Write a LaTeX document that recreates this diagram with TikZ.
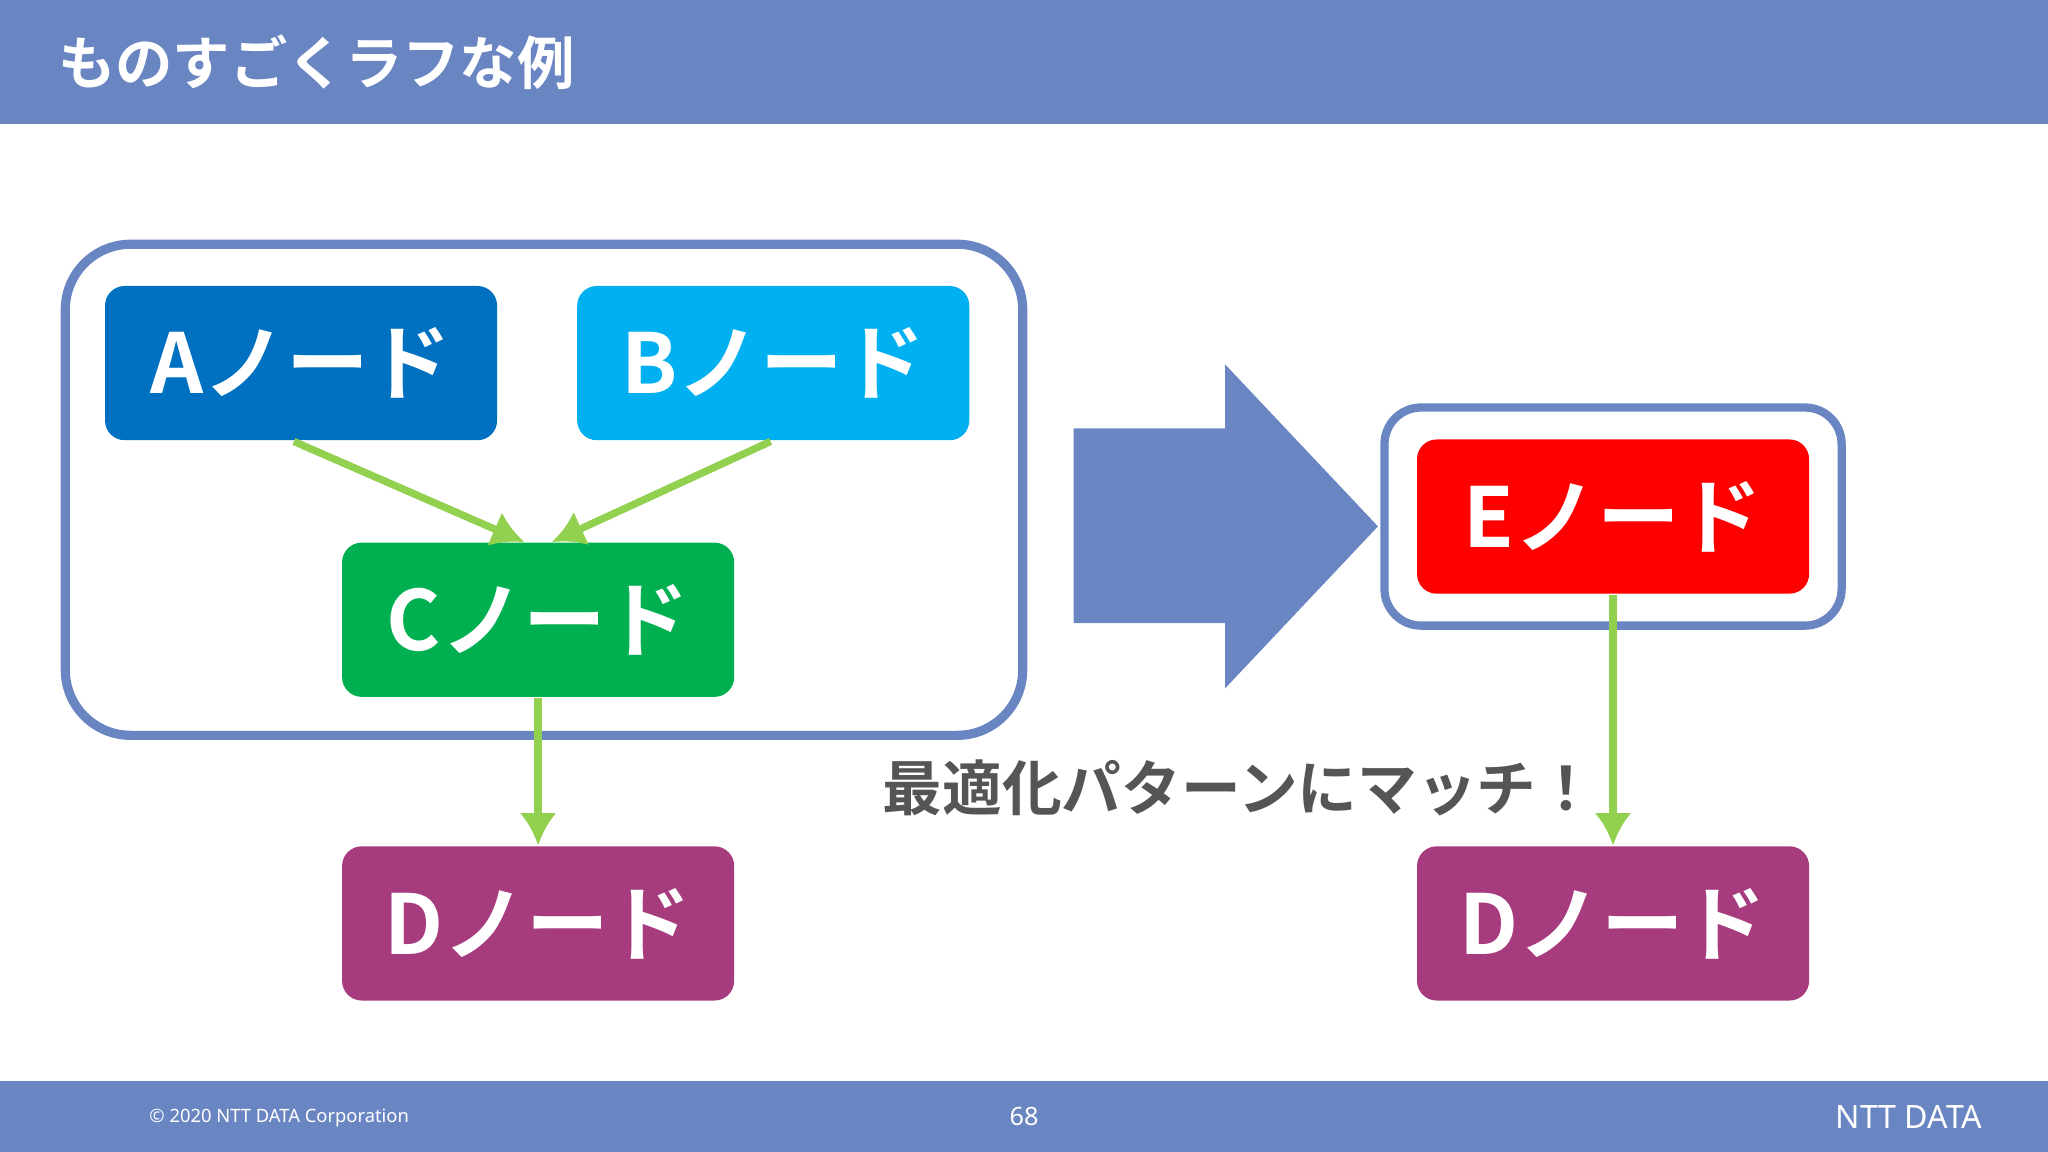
\documentclass[tikz,border=0pt]{standalone}
\usepackage{fontspec}
\setmainfont{Noto Sans CJK JP}[BoldFont={* Bold}]
\newfontfamily\lat{Noto Sans}
\usetikzlibrary{arrows.meta}
\definecolor{bar}{HTML}{6A86C2}
\definecolor{na}{HTML}{0070C0}
\definecolor{nb}{HTML}{00B0F0}
\definecolor{nc}{HTML}{00B050}
\definecolor{nd}{HTML}{A63C7E}
\definecolor{ne}{HTML}{FF0000}
\definecolor{gr}{HTML}{92D050}
\definecolor{tx}{HTML}{555555}
\begin{document}
\begin{tikzpicture}[x=0.01cm,y=-0.01cm,
  box/.style={rounded corners=0.15cm,text=white,font=\bfseries\fontsize{18}{20}\selectfont,inner sep=0,minimum width=3cm,minimum height=1.18cm},
  conn/.style={gr,line width=1.6pt,-{Latex[length=7pt,width=8pt]}}]
\useasboundingbox (0,0) rectangle (1568,882);
\fill[bar] (0,0) rectangle (1568,95);
\fill[bar] (0,828) rectangle (1568,882);
\node[anchor=west,text=white,font=\bfseries\fontsize{12.5}{14}\selectfont] (title) at (32,48) {ものすごくラフな例};
\node[anchor=west,text=white,font=\lat\fontsize{4}{5}\selectfont] (copy) at (102,856) {© 2020 NTT DATA Corporation};
\node[text=white,font=\lat\fontsize{5.5}{6}\selectfont] (pg) at (784,855) {68};
\node[anchor=east,text=white,font=\lat\bfseries\fontsize{7}{8}\selectfont] (logo) at (1530,855) {NTT DATA};
\draw[bar,line width=2pt,rounded corners=0.5cm] (50,187) rectangle (783,563);
\draw[bar,line width=1.8pt,rounded corners=0.28cm] (1060,312) rectangle (1410,479);
\node[box,fill=na] (a) at (230.5,278) {Aノード};
\node[box,fill=nb] (b) at (592,278) {Bノード};
\node[box,fill=nc] (c) at (412,474.5) {Cノード};
\node[box,fill=nd] (d1) at (412,707) {Dノード};
\node[box,fill=ne] (e) at (1235,395.5) {Eノード};
\node[box,fill=nd] (d2) at (1235,707) {Dノード};
\coordinate (ct) at (412,415);
\draw[conn] (225,338) -- ([xshift=-3]ct);
\draw[conn] (590,338) -- ([xshift=3]ct);
\draw[conn] (c.south) -- (d1.north);
\draw[conn] (e.south) -- (d2.north);
\fill[bar] (822,328) -- (938,328) -- (938,279) -- (1055,403) -- (938,527) -- (938,477) -- (822,477) -- cycle;
\node[text=tx,font=\bfseries\fontsize{13}{15}\selectfont] (msg) at (949,603) {最適化パターンにマッチ！};
\end{tikzpicture}
\end{document}
